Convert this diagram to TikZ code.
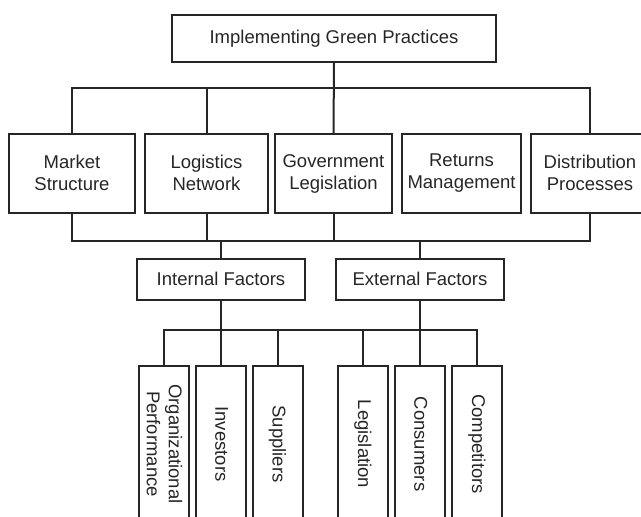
\documentclass[tikz,border=0pt]{standalone}
\usepackage{fontspec}
\setmainfont{Liberation Sans}
\usepackage{tikz}
\usetikzlibrary{positioning}
\usetikzlibrary{calc}

\newcommand\capstrut{\rule[-2pt]{0pt}{15.2pt}}

\tikzset{
  box/.style={ draw
             , line width = 2pt
             , inner sep = 0pt
             , align = center
             , font = \fontsize{18.5}{22}\selectfont
             , execute at begin node = \capstrut
             , execute at end node = \capstrut
             },
  wide/.style={ box
              , minimum height = 79pt
              },
  tall/.style={ box
              , rotate = -90
              , minimum width = 156pt
              , minimum height = 50pt
              },
  link/.style={ line width = 2pt
              , line join = miter
              }
}

\begin{document}
\begin{tikzpicture}[x=1pt, y=-1pt, color=black!85]

  \useasboundingbox (0,0) rectangle (641,517);

  \node [box, minimum width=324pt, minimum height=47pt] (green) at (334,38.5)
    {Implementing Green Practices};

  \node [wide, minimum width=126pt] (market)       at (72,173.5)  {Market\\Structure};
  \node [wide, minimum width=123pt] (logistics)    at (206.5,173.5) {Logistics\\Network};
  \node [wide, minimum width=117pt] (government)   at (333.5,173.5) {Government\\Legislation};
  \node [wide, minimum width=119pt] (returns)      at (461.5,173.5) {Returns\\Management};
  \node [wide, minimum width=118pt] (distribution) at (590,173.5) {Distribution\\Processes};

  \node [box, minimum width=168pt, minimum height=41pt] (internal) at (221,279.5) {Internal Factors};
  \node [box, minimum width=168pt, minimum height=41pt] (external) at (420,279.5) {External Factors};

  % rotated boxes: west is the top side
  \node [tall] (performance) at (163.5,444) {Organizational\\Performance};
  \node [tall] (investors)   at (221,444)   {Investors};
  \node [tall] (suppliers)   at (277.5,444) {Suppliers};
  \node [tall] (legislation) at (363,444)   {Legislation};
  \node [tall] (consumers)   at (420,444)   {Consumers};
  \node [tall] (competitors) at (477,444)   {Competitors};

  \coordinate (upperbus)  at (334,88);
  \coordinate (lowerbus)  at (334,240.7);
  \coordinate (factorbus) at (221,330);

  \draw [link] (green.south) -- (government.north);
  \draw [link] (market.north) |- (upperbus) -| (distribution.north);
  \draw [link] (logistics.north) -- (logistics.north |- upperbus);

  \draw [link] (market.south) |- (lowerbus) -| (distribution.south);
  \draw [link] (logistics.south) -- (logistics.south |- lowerbus);
  \draw [link] (government.south) -- (government.south |- lowerbus);
  \draw [link] (internal.north) -- (internal.north |- lowerbus);
  \draw [link] (external.north) -- (external.north |- lowerbus);

  \draw [link] (performance.west) |- (factorbus) -| (competitors.west);
  \draw [link] (internal.south) -- (investors.west);
  \draw [link] (external.south) -- (consumers.west);
  \draw [link] (suppliers.west) -- (suppliers.west |- factorbus);
  \draw [link] (legislation.west) -- (legislation.west |- factorbus);

\end{tikzpicture}
\end{document}
